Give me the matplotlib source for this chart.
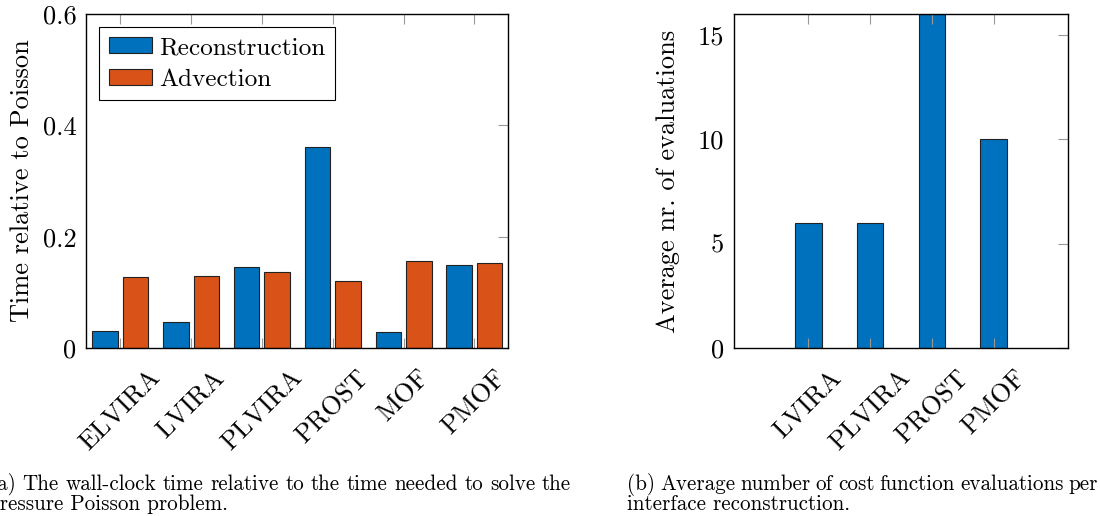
import numpy as np
import matplotlib
matplotlib.use("Agg")
import matplotlib.pyplot as plt
import matplotlib.transforms as mtransforms

# data
methods = ['ELVIRA', 'LVIRA', 'PLVIRA', 'PROST', 'MOF', 'PMOF']
reconstruction = [0.030, 0.047, 0.145, 0.361, 0.028, 0.149]
advection = [0.128, 0.130, 0.137, 0.120, 0.156, 0.153]
time_ticks = [0, 0.2, 0.4, 0.6]
time_tick_labels = ['0', '0.2', '0.4', '0.6']

eval_methods = ['LVIRA', 'PLVIRA', 'PROST', 'PMOF']
evaluations = [6, 6, 16, 10]
eval_ticks = [0, 5, 10, 15]
eval_tick_labels = ['0', '5', '10', '15']

blue = '#0072BD'
orange = '#D95319'

plt.rcParams['font.family'] = ['cmr10', 'DejaVu Serif']
plt.rcParams['axes.formatter.use_mathtext'] = True
plt.rcParams['axes.linewidth'] = 1.0

W, H = 1100, 516
fig = plt.figure(figsize=(W / 100, H / 100), dpi=100)
renderer = fig.canvas.get_renderer()

def box(l, t, r, b):
    return [l / W, 1 - b / H, (r - l) / W, (b - t) / H]

fs = 19

def style_axes(ax):
    ax.tick_params(axis='both', which='major', direction='in', length=7,
                   color='#999999', left=False, right=True, top=True,
                   bottom=True, labelsize=fs, pad=7)
    for s in ax.spines.values():
        s.set_color('black')

# (a) time relative to Poisson
ax1 = fig.add_axes(box(86, 14, 508, 348))
x = np.arange(len(methods))
bw = 0.36
ax1.bar(x - 0.215, reconstruction, bw, color=blue, edgecolor='#222222',
        linewidth=0.8, label='Reconstruction')
ax1.bar(x + 0.215, advection, bw, color=orange, edgecolor='#222222',
        linewidth=0.8, label='Advection')
ax1.set_xlim(-0.485, len(methods) - 1 + 0.475)
ax1.set_ylim(0, 0.6)
ax1.set_yticks(time_ticks)
ax1.set_yticklabels(time_tick_labels)
ax1.set_xticks(x)
ax1.set_xticklabels(methods, rotation=45, ha='center')
# labels sit a little right of the ticks in the original
for i, lab in enumerate(ax1.get_xticklabels()):
    shift = mtransforms.ScaledTranslation((6 + 2.8 * i) / 100, 0, fig.dpi_scale_trans)
    lab.set_transform(lab.get_transform() + shift)
style_axes(ax1)
ax1.tick_params(axis='x', pad=13)
ax1.set_ylabel('Time relative to Poisson', fontsize=fs)
ax1.yaxis.set_label_coords(-0.123, 0.5)
leg = ax1.legend(loc='upper left', bbox_to_anchor=(0.031, 0.96),
                 borderaxespad=0, fontsize=18.2, fancybox=False,
                 edgecolor='black', framealpha=1, handlelength=1.7,
                 handleheight=0.6, handletextpad=0.3, labelspacing=0.38,
                 borderpad=0.38)
leg.get_frame().set_linewidth(0.8)

# (b) cost function evaluations
ax2 = fig.add_axes(box(734, 14, 1068, 348))
x2 = np.arange(len(eval_methods))
ax2.bar(x2, evaluations, 0.43, color=blue, edgecolor='#222222', linewidth=0.8)
ax2.set_xlim(-1.2, len(eval_methods) - 1 + 1.2)
ax2.set_ylim(0, 16)
ax2.set_yticks(eval_ticks)
ax2.set_yticklabels(eval_tick_labels)
ax2.set_xticks(x2)
ax2.set_xticklabels(eval_methods, rotation=45, ha='center')
style_axes(ax2)
ax2.tick_params(axis='x', pad=13)
ax2.set_ylabel('Average nr. of evaluations', fontsize=fs)
ax2.yaxis.set_label_coords(-0.162, 0.5)

# captions, first line justified between x0 and x1 like LaTeX does
cfs = 15.2

def justified(line, x0, x1, y):
    words = line.split(' ')
    texts = [fig.text(0, 1 - y / H, w, fontsize=cfs, ha='left', va='baseline')
             for w in words]
    widths = [t.get_window_extent(renderer).width for t in texts]
    gap = (x1 - x0 - sum(widths)) / (len(words) - 1)
    pos = x0
    for t, w in zip(texts, widths):
        t.set_x(pos / W)
        pos += w + gap

justified('(a) The wall-clock time relative to the time needed to solve the', -11, 571, 490)
fig.text(-12 / W, 1 - 510 / H, 'pressure Poisson problem.',
         fontsize=cfs, ha='left', va='baseline')
justified('(b) Average number of cost function evaluations per', 627, 1098, 490)
fig.text(627 / W, 1 - 510 / H, 'interface reconstruction.',
         fontsize=cfs, ha='left', va='baseline')

fig.savefig('out.png', dpi=100)
